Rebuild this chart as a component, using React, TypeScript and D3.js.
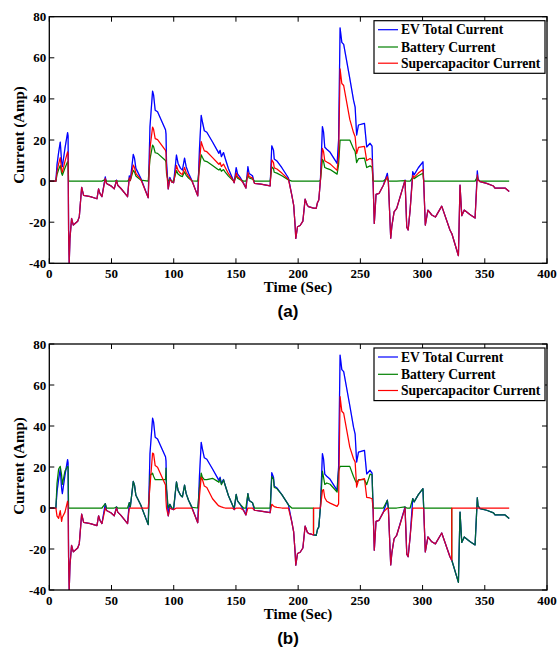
import React from "react";
import * as d3 from "d3";

// ---- data ----
const timeSec = [
  0, 5.3, 6.2, 7.5, 8.8, 9.9, 10.5, 12.6, 14.7, 15.1,
  15.5, 16.0, 16.6, 17.9, 19.3, 22.8, 24.1, 26.0, 26.8, 27.6,
  33, 38.3, 39.6, 40.7, 42.3, 45, 46, 49.5, 52.2, 54,
  55, 57.6, 62.9, 64.3, 65.1, 67.5, 68.5, 69.6, 71, 73.6,
  79.5, 80.9, 83, 83.8, 85.1, 87, 93.4, 93.8, 94.2, 95.6,
  96.9, 98.5, 99.9, 102.2, 103.5, 105.5, 107, 108.7, 110, 111.9,
  114.6, 119.3, 120.7, 122.1, 123, 124.6, 126.6, 131.2, 135.3, 136.3,
  137.3, 138.3, 140, 141.4, 144, 147.3, 148.6, 150.2, 151.3, 153.4,
  156.1, 158, 159.6, 160.6, 163.3, 164.9, 170, 177.5, 178.8, 180.2,
  180.8, 182.9, 186.9, 192.2, 194.9, 196.4, 197.6, 198.1, 199.5, 201.6,
  203.8, 205.6, 207.3, 208.3, 211, 212.3, 212.4, 214.5, 215.5, 216.6,
  217.9, 219.5, 220.4, 221.4, 223, 225.7, 231.3, 232.5, 233.7, 235.1,
  236.6, 241.5, 244.5, 245.8, 247, 248.5, 253.3, 255.1, 257.8, 259.4,
  260.2, 261.2, 262.6, 265, 268.5, 271.7, 272.5, 274.4, 275.3, 277.1,
  279.2, 285.9, 287.3, 288.4, 290, 292.1, 293.2, 296.6, 300.3, 300.9,
  302.2, 304.3, 307.4, 310.3, 315.4, 322, 323.4, 323.5, 328.8, 330.1,
  331.5, 333.5, 338, 342.2, 344, 344.6, 346.2, 351.5, 357, 358.2,
  366.3, 369.6,
];

const evTotal = [
  0, 0, 8, 14, 19, 9.5, 7, 16, 23.6, 22,
  -24, -40, -28, -18.2, -21.4, -19.5, -17.4, -3, -5, -7,
  -7.6, -8.6, -3.8, -6, -7.6, 2.1, -1.2, -2.3, -3.8, 0.5,
  -2, -3.6, -7.6, 2.6, 0.5, 13, 11, 6.2, 4.5, 1.3,
  -8.1, 26.4, 43.8, 42, 34.5, 33.7, 25, 23, 9.4, -3.8,
  1.8, -0.5, -0.8, 12.7, 8.6, 6.2, 5.4, 11.2, 7, 3.8,
  0.3, -7.2, 15.9, 32, 29, 24.5, 23.8, 19, 14.6, 13.5,
  15, 11.9, 13.9, 11, 6, 1.3, -0.8, 6.6, 3.5, 1.8,
  -1.1, -3.4, 7, 3.7, 2.6, -1.1, -1.5, -2.3, 17.2, 15,
  10.7, 9.8, 6.5, 1.5, -6.8, -11.7, -22, -27.9, -22.2, -21.6,
  -19.5, -8.8, -11.7, -12.4, -12.9, -13.1, -13.1, -13.3, -10.5, -9.2,
  0.5, 26.5, 24, 16.5, 15.5, 14, 8.6, 20, 74.6, 67.5,
  66.5, 50, 39.4, 36, 22.4, 27.3, 28.1, 16.6, 18.4, 17,
  0.3, -20.6, -6.5, -6, -2, 3.8, -0.3, -27.8, -22, -15,
  -13.3, 0.5, -22.5, -23.8, -14, 4.6, 3, 6.5, 9.4, -0.3,
  -21.4, -14.1, -16.5, -17.5, -12.2, -23.8, -25.5, -25.5, -36.3, -2,
  -16.8, -14.1, -16.3, -18, 5, 1, -0.3, -1.1, -2.4, -3.4,
  -3.4, -5.1,
];

const batteryA = [
  0, 0, 3.2, 5.6, 7.6, 3.8, 2.8, 6.4, 9.4, 8.8,
  0, 0, 0, 0, 0, 0, 0, 0, 0, 0,
  0, 0, 0, 0, 0, 0.8, 0, 0, 0, 0.2,
  0, 0, 0, 1, 0.2, 5.2, 4.4, 2.5, 1.8, 0.5,
  0, 10.6, 17.5, 16.8, 13.8, 13.5, 10, 9.2, 3.8, 0,
  0.7, 0, 0, 5.1, 3.4, 2.5, 2.2, 4.5, 2.8, 1.5,
  0.1, 0, 6.4, 12.8, 11.6, 9.8, 9.5, 7.6, 5.8, 5.4,
  6, 4.8, 5.6, 4.4, 2.4, 0.5, 0, 2.6, 1.4, 0.7,
  0, 0, 2.8, 1.5, 1, 0, 0, 0, 6.9, 6,
  4.3, 3.9, 2.6, 0.6, 0, 0, 0, 0, 0, 0,
  0, 0, 0, 0, 0, 0, 0, 0, 0, 0,
  0.2, 10.6, 9.6, 6.6, 6.2, 5.6, 3.4, 8, 20, 20,
  20, 20, 15.8, 14.4, 9, 10.9, 11.2, 6.6, 7.4, 6.8,
  0.1, 0, 0, 0, 0, 1.5, 0, 0, 0, 0,
  0, 0.2, 0, 0, 0, 1.8, 1.2, 2.6, 3.8, 0,
  0, 0, 0, 0, 0, 0, 0, 0, 0, 0,
  0, 0, 0, 0, 2, 0.4, 0, 0, 0, 0,
  0, 0,
];

const supercapA = [
  0, 0, 4.8, 8.4, 11.4, 5.7, 4.2, 9.6, 14.2, 13.2,
  -24, -40, -28, -18.2, -21.4, -19.5, -17.4, -3, -5, -7,
  -7.6, -8.6, -3.8, -6, -7.6, 1.3, -1.2, -2.3, -3.8, 0.3,
  -2, -3.6, -7.6, 1.6, 0.3, 7.8, 6.6, 3.7, 2.7, 0.8,
  -8.1, 15.8, 26.3, 25.2, 20.7, 20.2, 15, 13.8, 5.6, -3.8,
  1.1, -0.5, -0.8, 7.6, 5.2, 3.7, 3.2, 6.7, 4.2, 2.3,
  0.2, -7.2, 9.5, 19.2, 17.4, 14.7, 14.3, 11.4, 8.8, 8.1,
  9, 7.1, 8.3, 6.6, 3.6, 0.8, -0.8, 4, 2.1, 1.1,
  -1.1, -3.4, 4.2, 2.2, 1.6, -1.1, -1.5, -2.3, 10.3, 9,
  6.4, 5.9, 3.9, 0.9, -6.8, -11.7, -22, -27.9, -22.2, -21.6,
  -19.5, -8.8, -11.7, -12.4, -12.9, -13.1, -13.1, -13.3, -10.5, -9.2,
  0.3, 15.9, 14.4, 9.9, 9.3, 8.4, 5.2, 12, 54.6, 47.5,
  46.5, 30, 23.6, 21.6, 13.4, 16.4, 16.9, 10, 11, 10.2,
  0.2, -20.6, -6.5, -6, -2, 2.3, -0.3, -27.8, -22, -15,
  -13.3, 0.3, -22.5, -23.8, -14, 2.8, 1.8, 3.9, 5.6, -0.3,
  -21.4, -14.1, -16.5, -17.5, -12.2, -23.8, -25.5, -25.5, -36.3, -2,
  -16.8, -14.1, -16.3, -18, 3, 0.6, -0.3, -1.1, -2.4, -3.4,
  -3.4, -5.1,
];

const batteryB = [
  0, 0, 12, 19, 20.3, 16, 11.5, 18, 20.3, 20,
  0, 0, 0, 0, 0, 0, 0, 0, 0, 0,
  0, 0, 0, 0, 0, 2.1, 0, 0, 0, 0.5,
  0, 0, 0, 2.6, 0.5, 13, 11, 6.2, 4.5, 1.3,
  -8.1, 16, 17, 15.5, 13.8, 13.8, 13.8, 19.5, 9.4, 0,
  1.8, 0, 0, 12.7, 8.6, 6.2, 5.4, 11.2, 7, 3.8,
  0.3, 0, 10, 17, 15, 13.8, 13.8, 14.5, 13, 12.5,
  14.2, 11.4, 13.7, 11, 6, 1.3, 0, 6.6, 3.5, 1.8,
  0, 0, 7, 3.7, 2.6, 0, 0, 0, 15.4, 14,
  10, 9.5, 6.5, 1.5, 0, 0, 0, 0, 0, 0,
  0, 0, 0, 0, 0, 0, -13.1, -13.3, -10.5, -9.2,
  0.5, 18, 15, 11.5, 12.2, 11.6, 7.8, 18, 20.3, 20.3,
  20.3, 20.3, 15.4, 13.5, 12.2, 13.8, 13.8, 11.4, 16.5, 16.2,
  0, 0, 0, 0, 0, 3.8, 0, 0, 0, 0,
  0, 0.5, 0, 0, 0, 4.6, 3, 6.5, 9.4, 0,
  0, 0, 0, 0, 0, 0, 0, -25.5, -36.3, -2,
  -16.8, -14.1, -16.3, -18, 5, 1, -0.3, -1.1, -2.4, -3.4,
  -3.4, -5.1,
];

const supercapB = [
  0, 0, -4, -5, -1.3, -6.5, -4.5, -2, 3.3, 2,
  -24, -40, -28, -18.2, -21.4, -19.5, -17.4, -3, -5, -7,
  -7.6, -8.6, -3.8, -6, -7.6, 0, -1.2, -2.3, -3.8, 0,
  -2, -3.6, -7.6, 0, 0, 0, 0, 0, 0, 0,
  0, 10.4, 26.8, 26.5, 20.7, 19.9, 11.2, 3.5, 0, -3.8,
  0, -0.5, -0.8, 0, 0, 0, 0, 0, 0, 0,
  0, -7.2, 5.9, 15, 14, 10.7, 10, 4.5, 1.6, 1,
  0.8, 0.5, 0.2, 0, 0, 0, -0.8, 0, 0, 0,
  -1.1, -3.4, 0, 0, 0, -1.1, -1.5, -2.3, 1.8, 1,
  0.7, 0.3, 0, 0, -6.8, -11.7, -22, -27.9, -22.2, -21.6,
  -19.5, -8.8, -11.7, -12.4, -12.9, -13.1, 0, 0, 0, 0,
  0, 8.5, 9, 5, 3.3, 2.4, 0.8, 2, 54.3, 47.2,
  46.2, 29.7, 24, 22.5, 10.2, 13.5, 14.3, 5.2, 4.9, 4.5,
  0.3, -20.6, -6.5, -6, -2, 0, -0.3, -27.8, -22, -15,
  -13.3, 0, -22.5, -23.8, -14, 0, 0, 0, 0, -0.3,
  -21.4, -14.1, -16.5, -17.5, -12.2, -23.8, -25.5, 0, 0, 0,
  0, 0, 0, 0, 0, 0, 0, 0, 0, 0,
  0, 0,
];

const xTicks = [0, 50, 100, 150, 200, 250, 300, 350, 400];
const yTicks = [-40, -20, 0, 20, 40, 60, 80];
const legendLabels = ["EV Total Current", "Battery Current", "Supercapacitor Current"];
const panelTags = ["(a)", "(b)"];
const xLabel = "Time (Sec)";
const yLabel = "Current (Amp)";

// ---- layout ----
const W = 559;
const H = 649;
const X0 = 49.3;
const X1 = 547;
const PANELS = [
  { top: 16.7, bottom: 263.3, bat: batteryA, sc: supercapA, tag: panelTags[0], tagY: 317, ylab: 135 },
  { top: 344, bottom: 590, bat: batteryB, sc: supercapB, tag: panelTags[1], tagY: 644, ylab: 466 },
];
const SERIF = '"Liberation Serif", "Times New Roman", serif';
const SANS = '"Liberation Sans", Arial, sans-serif';
const BLUE = "#0000ff";
const GREEN = "#008000";
const RED = "#ff0000";

function Panel({ p, idx }: { p: any; idx: number }) {
  const x = d3.scaleLinear().domain([0, 400]).range([X0, X1]);
  const y = d3.scaleLinear().domain([-40, 80]).range([p.bottom, p.top]);
  const mk = (vals: number[]) =>
    d3
      .line<number>()
      .x((_, i) => x(timeSec[i]))
      .y((d) => y(d))(vals) || "";
  const clipId = `clip${idx}`;
  const tl = 5;
  const lgX0 = 374;
  const lgX1 = 545;
  const lgY0 = p.top + 4;
  const lgH = 52.6;
  const lgRows = [13, 30.3, 46.5];
  const colors = [BLUE, GREEN, RED];
  return (
    <g>
      <defs>
        <clipPath id={clipId}>
          <rect x={X0} y={p.top} width={X1 - X0} height={p.bottom - p.top} />
        </clipPath>
      </defs>
      <rect x={X0} y={p.top} width={X1 - X0} height={p.bottom - p.top} fill="#fff" />
      <g clipPath={`url(#${clipId})`} fill="none" strokeWidth={1.25} strokeLinejoin="round">
        <path d={mk(evTotal)} stroke={BLUE} />
        <path d={mk(p.bat)} stroke={GREEN} />
        <path d={mk(p.sc)} stroke={RED} />
        <path d={mk(evTotal)} stroke={BLUE} strokeOpacity={0.22} />
      </g>
      {/* ticks */}
      <g stroke="#000" strokeWidth={1}>
        {xTicks.map((t) => (
          <g key={`xt${t}`}>
            <line x1={x(t)} x2={x(t)} y1={p.bottom} y2={p.bottom - tl} />
            <line x1={x(t)} x2={x(t)} y1={p.top} y2={p.top + tl} />
          </g>
        ))}
        {yTicks.map((t) => (
          <g key={`yt${t}`}>
            <line x1={X0} x2={X0 + tl} y1={y(t)} y2={y(t)} />
            <line x1={X1} x2={X1 - tl} y1={y(t)} y2={y(t)} />
          </g>
        ))}
      </g>
      <rect x={X0} y={p.top} width={X1 - X0} height={p.bottom - p.top} fill="none" stroke="#000" strokeWidth={1.3} />
      {/* tick labels */}
      <g fontFamily={SERIF} fontWeight="bold" fontSize={13} fill="#000">
        {xTicks.map((t) => (
          <text key={`xl${t}`} x={x(t)} y={p.bottom + 14.5} textAnchor="middle">
            {t}
          </text>
        ))}
        {yTicks.map((t) => (
          <text key={`yl${t}`} x={X0 - 3} y={y(t) + 4.5} textAnchor="end">
            {t}
          </text>
        ))}
      </g>
      <text x={298} y={p.bottom + 29} textAnchor="middle" fontFamily={SERIF} fontWeight="bold" fontSize={15}>
        {xLabel}
      </text>
      <text
        transform={`translate(24,${p.ylab}) rotate(-90)`}
        textAnchor="middle"
        fontFamily={SERIF}
        fontWeight="bold"
        fontSize={15}
      >
        {yLabel}
      </text>
      <text x={288} y={p.tagY} textAnchor="middle" fontFamily={SANS} fontWeight="bold" fontSize={17}>
        {p.tag}
      </text>
      {/* legend */}
      <rect x={lgX0} y={lgY0} width={lgX1 - lgX0} height={lgH} fill="#fff" stroke="#000" strokeWidth={1.2} />
      {legendLabels.map((lab, i) => (
        <g key={lab}>
          <line x1={lgX0 + 4} x2={lgX0 + 24} y1={p.top + lgRows[i]} y2={p.top + lgRows[i]} stroke={colors[i]} strokeWidth={1.2} />
          <text
            x={lgX0 + 27}
            y={p.top + lgRows[i] + 4.6}
            fontFamily={SERIF}
            fontWeight="bold"
            fontSize={13.6}
          >
            {lab}
          </text>
        </g>
      ))}
    </g>
  );
}

export default function App() {
  return (
    <svg
      width={W}
      height={H}
      viewBox={`0 0 ${W} ${H}`}
      style={{ position: "absolute", left: 0, top: 0, display: "block", background: "#fff" }}
    >
      <rect width={W} height={H} fill="#fff" />
      {PANELS.map((p, i) => (
        <Panel key={i} p={p} idx={i} />
      ))}
    </svg>
  );
}
